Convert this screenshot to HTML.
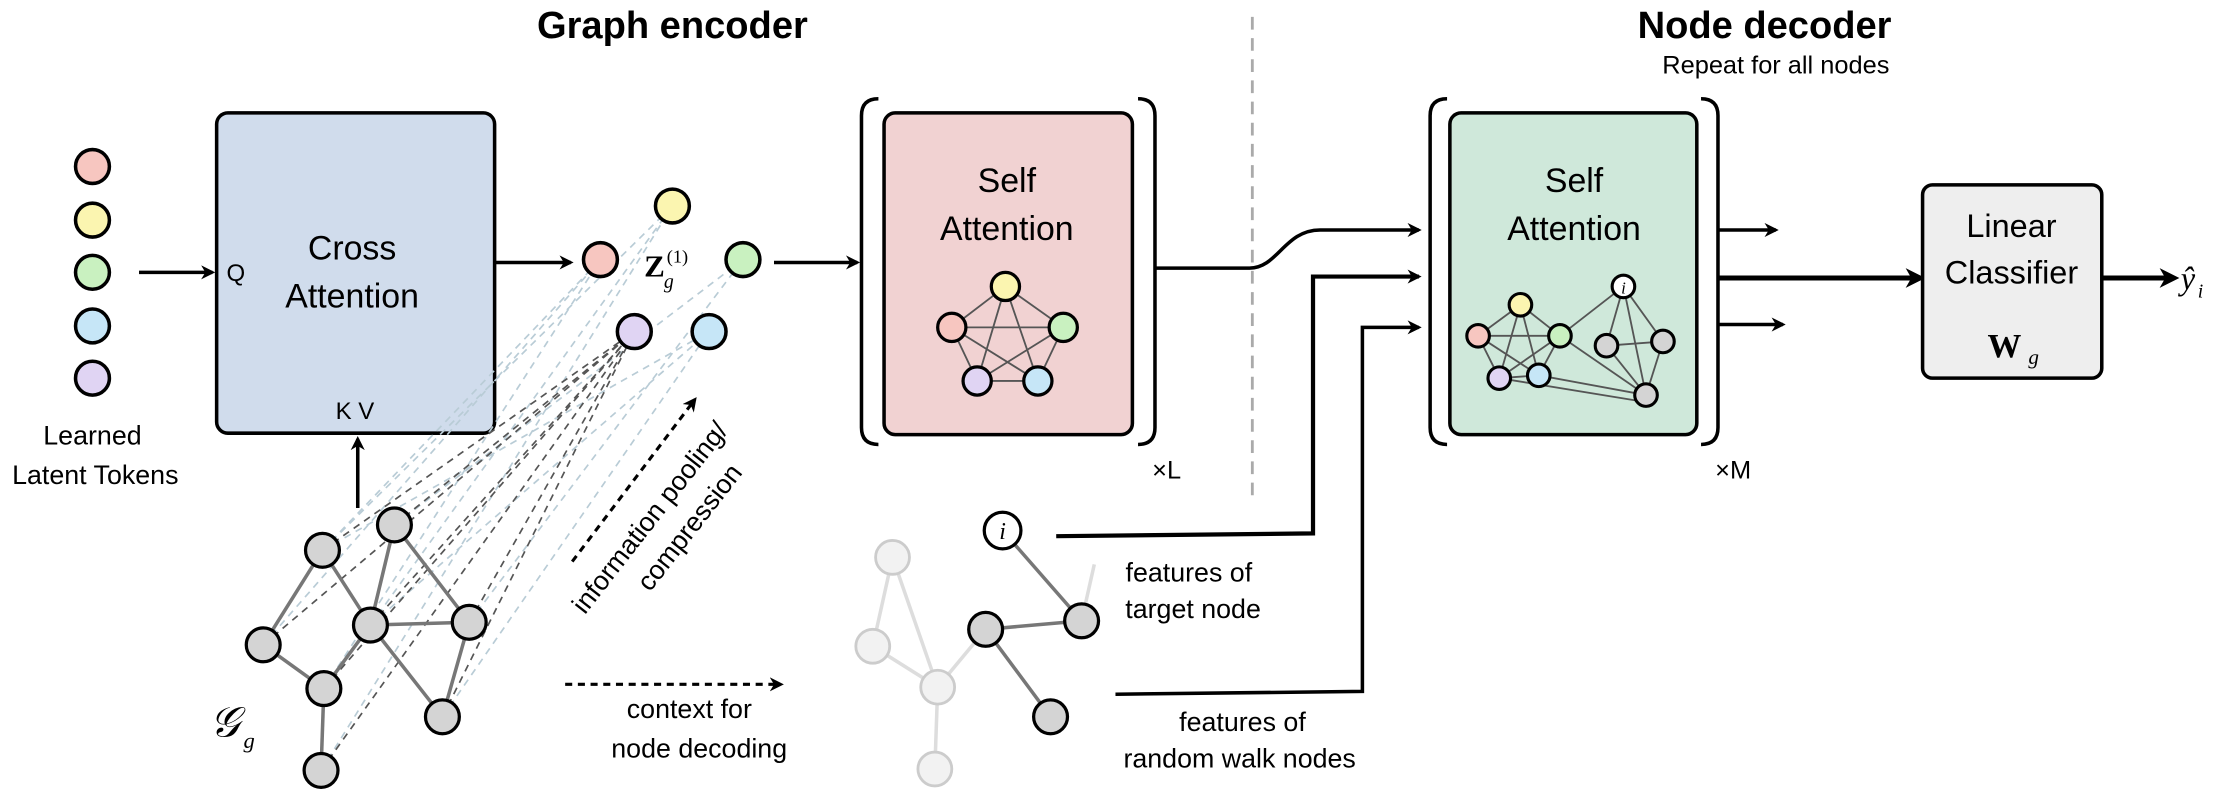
<!DOCTYPE html>
<html><head><meta charset="utf-8"><style>html,body{margin:0;padding:0;background:#fff}svg{display:block}</style></head><body>
<svg width="2214" height="793" viewBox="0 0 1568 562" xmlns="http://www.w3.org/2000/svg" font-family="Liberation Sans, sans-serif">
<defs>
<marker id="ah" markerWidth="10" markerHeight="10" refX="8" refY="5" orient="auto" markerUnits="userSpaceOnUse"><path d="M0,0 L10,5 L0,10 L3,5z" fill="#000"/></marker>
<marker id="ah2" markerWidth="14" markerHeight="14" refX="10" refY="7" orient="auto" markerUnits="userSpaceOnUse"><path d="M0,0 L14,7 L0,14 L4,7z" fill="#000"/></marker>
</defs>
<text x="476" y="27" font-size="27" font-weight="bold" text-anchor="middle">Graph encoder</text>
<text x="1250" y="27" font-size="27" font-weight="bold" text-anchor="middle">Node decoder</text>
<text x="1258" y="52" font-size="18" text-anchor="middle">Repeat for all nodes</text>
<line x1="887" y1="12" x2="887" y2="355" stroke="#aaa" stroke-width="2" stroke-dasharray="9,6"/>
<g stroke="#000" stroke-width="2.5">
<circle cx="65" cy="118" r="12" fill="#f7c6c0"/><circle cx="65" cy="156" r="12" fill="#fbf5b0"/><circle cx="65" cy="193" r="12" fill="#c9f1c0"/><circle cx="65" cy="231" r="12" fill="#c6e6f7"/><circle cx="65" cy="268" r="12" fill="#e0d4f3"/>
</g>
<text x="65" y="315" font-size="19" text-anchor="middle">Learned</text>
<text x="67" y="343" font-size="19" text-anchor="middle">Latent Tokens</text>
<g stroke="#000" stroke-width="2.5" fill="none">
<line x1="98" y1="193" x2="150" y2="193" marker-end="url(#ah)"/>
<line x1="253" y1="360" x2="253" y2="311" marker-end="url(#ah)"/>
<line x1="350" y1="186" x2="404" y2="186" marker-end="url(#ah)"/>
<line x1="548" y1="186" x2="607" y2="186" marker-end="url(#ah)"/>
</g>
<rect x="153" y="80" width="197" height="227" rx="8" fill="#d0dcec" stroke="#000" stroke-width="2.5"/>
<text x="249" y="184" font-size="24" text-anchor="middle">Cross</text>
<text x="249" y="218" font-size="24" text-anchor="middle">Attention</text>
<text x="160" y="199" font-size="17">Q</text>
<text x="251" y="297" font-size="17" text-anchor="middle">K V</text>
<g stroke="#b9ccd6" stroke-width="1.2" stroke-dasharray="5,4">
<line x1="228" y1="390" x2="425" y2="184"/><line x1="228" y1="390" x2="476" y2="146"/><line x1="228" y1="390" x2="502" y2="235"/>
<line x1="279" y1="372" x2="526" y2="184"/><line x1="262" y1="443" x2="476" y2="146"/><line x1="262" y1="443" x2="502" y2="235"/>
<line x1="332" y1="441" x2="526" y2="184"/><line x1="313" y1="508" x2="502" y2="235"/><line x1="229" y1="488" x2="425" y2="184"/>
<line x1="186" y1="457" x2="425" y2="184"/><line x1="227" y1="546" x2="476" y2="146"/>
</g>
<g stroke="#555" stroke-width="1.2" stroke-dasharray="5,4">
<line x1="228" y1="390" x2="449" y2="235"/><line x1="279" y1="372" x2="449" y2="235"/><line x1="186" y1="457" x2="449" y2="235"/><line x1="262" y1="443" x2="449" y2="235"/><line x1="332" y1="441" x2="449" y2="235"/><line x1="229" y1="488" x2="449" y2="235"/><line x1="313" y1="508" x2="449" y2="235"/><line x1="227" y1="546" x2="449" y2="235"/>
</g>
<g stroke="#000" stroke-width="2.5">
<circle cx="425" cy="184" r="12" fill="#f7c6c0"/><circle cx="476" cy="146" r="12" fill="#fbf5b0"/><circle cx="526" cy="184" r="12" fill="#c9f1c0"/><circle cx="449" cy="235" r="12" fill="#e0d4f3"/><circle cx="502" cy="235" r="12" fill="#c6e6f7"/>
</g>
<text x="456" y="196" font-size="22" font-weight="bold" font-family="Liberation Serif, serif">Z</text>
<text x="470" y="204" font-size="14" font-style="italic" font-family="Liberation Serif, serif">g</text>
<text x="472" y="186" font-size="13" font-family="Liberation Serif, serif">(1)</text>
<g fill="none" stroke="#000" stroke-width="2.5">
<path d="M622,70 Q610,70 610,82 L610,303 Q610,315 622,315"/>
<path d="M806,70 Q818,70 818,82 L818,303 Q818,315 806,315"/>
<path d="M1025,70 Q1013,70 1013,82 L1013,303 Q1013,315 1025,315"/>
<path d="M1205,70 Q1217,70 1217,82 L1217,303 Q1217,315 1205,315"/>
</g>
<rect x="626" y="80" width="176" height="228" rx="8" fill="#f1d2d2" stroke="#000" stroke-width="2.5"/>
<text x="713" y="136" font-size="24" text-anchor="middle">Self</text>
<text x="713" y="170" font-size="24" text-anchor="middle">Attention</text>
<g stroke="#555" stroke-width="1.3">
<line x1="712" y1="203" x2="674" y2="232"/><line x1="712" y1="203" x2="753" y2="232"/><line x1="712" y1="203" x2="692" y2="270"/><line x1="712" y1="203" x2="735" y2="270"/>
<line x1="674" y1="232" x2="753" y2="232"/><line x1="674" y1="232" x2="692" y2="270"/><line x1="674" y1="232" x2="735" y2="270"/><line x1="753" y1="232" x2="692" y2="270"/><line x1="753" y1="232" x2="735" y2="270"/><line x1="692" y1="270" x2="735" y2="270"/>
</g>
<g stroke="#000" stroke-width="2.3">
<circle cx="712" cy="203" r="10" fill="#fbf5b0"/><circle cx="674" cy="232" r="10" fill="#f7c6c0"/><circle cx="753" cy="232" r="10" fill="#c9f1c0"/><circle cx="692" cy="270" r="10" fill="#e0d4f3"/><circle cx="735" cy="270" r="10" fill="#c6e6f7"/>
</g>
<text x="816" y="339" font-size="18">×L</text>
<text x="1215" y="339" font-size="18">×M</text>
<g fill="none" stroke="#000" stroke-width="2.5">
<path d="M818,190 L885,190 C905,190 910,163 935,163 L1005,163" marker-end="url(#ah)"/>
<path d="M748,380 L930,378 L930,196 L1005,196" stroke-width="3" marker-end="url(#ah)"/>
<path d="M790,492 L965,490 L965,232 L1005,232" marker-end="url(#ah)"/>
<line x1="1218" y1="163" x2="1258" y2="163" marker-end="url(#ah)"/>
<line x1="1218" y1="197" x2="1360" y2="197" stroke-width="3.5" marker-end="url(#ah2)"/>
<line x1="1218" y1="230" x2="1263" y2="230" marker-end="url(#ah)"/>
<line x1="1489" y1="197" x2="1540" y2="197" stroke-width="3.5" marker-end="url(#ah2)"/>
</g>
<rect x="1027" y="80" width="175" height="228" rx="8" fill="#cfe8da" stroke="#000" stroke-width="2.5"/>
<text x="1115" y="136" font-size="24" text-anchor="middle">Self</text>
<text x="1115" y="170" font-size="24" text-anchor="middle">Attention</text>
<g stroke="#555" stroke-width="1.3">
<line x1="1077" y1="216" x2="1047" y2="238"/><line x1="1077" y1="216" x2="1105" y2="238"/><line x1="1077" y1="216" x2="1062" y2="268"/><line x1="1077" y1="216" x2="1090" y2="266"/>
<line x1="1047" y1="238" x2="1062" y2="268"/><line x1="1047" y1="238" x2="1090" y2="266"/><line x1="1047" y1="238" x2="1105" y2="238"/><line x1="1105" y1="238" x2="1062" y2="268"/><line x1="1105" y1="238" x2="1090" y2="266"/><line x1="1062" y1="268" x2="1090" y2="266"/>
<line x1="1150" y1="203" x2="1105" y2="238"/><line x1="1150" y1="203" x2="1138" y2="245"/><line x1="1150" y1="203" x2="1166" y2="280"/><line x1="1150" y1="203" x2="1178" y2="242"/>
<line x1="1105" y1="238" x2="1166" y2="280"/><line x1="1138" y1="245" x2="1178" y2="242"/><line x1="1138" y1="245" x2="1166" y2="280"/><line x1="1178" y1="242" x2="1166" y2="280"/><line x1="1090" y1="266" x2="1166" y2="280"/><line x1="1062" y1="268" x2="1166" y2="285"/>
</g>
<g stroke="#000" stroke-width="2.2">
<circle cx="1077" cy="216" r="8" fill="#fbf5b0"/><circle cx="1047" cy="238" r="8" fill="#f7c6c0"/><circle cx="1105" cy="238" r="8" fill="#c9f1c0"/><circle cx="1062" cy="268" r="8" fill="#e0d4f3"/><circle cx="1090" cy="266" r="8" fill="#c6e6f7"/>
<circle cx="1150" cy="203" r="8" fill="#fff"/><circle cx="1138" cy="245" r="8" fill="#d4d4d4"/><circle cx="1178" cy="242" r="8" fill="#d4d4d4"/><circle cx="1166" cy="280" r="8" fill="#d4d4d4"/>
</g>
<text x="1150" y="208" font-size="12" font-style="italic" text-anchor="middle" font-family="Liberation Serif, serif">i</text>
<rect x="1362" y="131" width="127" height="137" rx="7" fill="#eeeeee" stroke="#000" stroke-width="2.5"/>
<text x="1425" y="168" font-size="23" text-anchor="middle">Linear</text>
<text x="1425" y="201" font-size="23" text-anchor="middle">Classifier</text>
<text x="1420" y="253" font-size="24" font-weight="bold" text-anchor="middle" font-family="Liberation Serif, serif">W</text>
<text x="1437" y="258" font-size="15" font-style="italic" font-family="Liberation Serif, serif">g</text>
<text x="1545" y="205" font-size="23" font-style="italic" font-family="Liberation Serif, serif">ŷ</text>
<text x="1557" y="211" font-size="14" font-style="italic" font-family="Liberation Serif, serif">i</text>
<g stroke="#777" stroke-width="2.5">
<line x1="228" y1="390" x2="186" y2="457"/><line x1="228" y1="390" x2="262" y2="443"/><line x1="279" y1="372" x2="332" y2="441"/><line x1="279" y1="372" x2="262" y2="443"/>
<line x1="186" y1="457" x2="229" y2="488"/><line x1="262" y1="443" x2="229" y2="488"/><line x1="262" y1="443" x2="332" y2="441"/><line x1="332" y1="441" x2="313" y2="508"/><line x1="229" y1="488" x2="227" y2="546"/><line x1="262" y1="443" x2="313" y2="508"/>
</g>
<g stroke="#000" stroke-width="2.3" fill="#d4d4d4">
<circle cx="228" cy="390" r="12"/><circle cx="279" cy="372" r="12"/><circle cx="186" cy="457" r="12"/><circle cx="262" cy="443" r="12"/><circle cx="332" cy="441" r="12"/><circle cx="229" cy="488" r="12"/><circle cx="313" cy="508" r="12"/><circle cx="227" cy="546" r="12"/>
</g>
<text x="148" y="522" font-size="30" font-style="italic" font-family="Liberation Serif, serif">𝒢</text>
<text x="172" y="530" font-size="16" font-style="italic" font-family="Liberation Serif, serif">g</text>
<line x1="405" y1="398" x2="492" y2="283" stroke="#000" stroke-width="2.2" stroke-dasharray="5,4" marker-end="url(#ah)"/>
<text transform="translate(414,436) rotate(-52)" font-size="19">information pooling/</text>
<text transform="translate(460,420) rotate(-52)" font-size="19">compression</text>
<line x1="400" y1="485" x2="553" y2="485" stroke="#000" stroke-width="2.2" stroke-dasharray="5,4" marker-end="url(#ah)"/>
<text x="488" y="509" font-size="19" text-anchor="middle">context for</text>
<text x="495" y="537" font-size="19" text-anchor="middle">node decoding</text>
<g stroke="#ddd" stroke-width="2.5">
<line x1="632" y1="395" x2="618" y2="458"/><line x1="618" y1="458" x2="664" y2="487"/><line x1="664" y1="487" x2="662" y2="545"/><line x1="632" y1="395" x2="664" y2="487"/><line x1="664" y1="487" x2="698" y2="446"/><line x1="766" y1="440" x2="775" y2="400"/>
</g>
<g stroke="#ccc" stroke-width="2" fill="#f2f2f2">
<circle cx="632" cy="395" r="12"/><circle cx="618" cy="458" r="12"/><circle cx="664" cy="487" r="12"/><circle cx="662" cy="545" r="12"/>
</g>
<g stroke="#777" stroke-width="2.5">
<line x1="710" y1="376" x2="766" y2="440"/><line x1="698" y1="446" x2="766" y2="440"/><line x1="698" y1="446" x2="744" y2="508"/>
</g>
<g stroke="#000" stroke-width="2.3" fill="#d4d4d4">
<circle cx="710" cy="376" r="13" fill="#fff"/><circle cx="698" cy="446" r="12"/><circle cx="766" cy="440" r="12"/><circle cx="744" cy="508" r="12"/>
</g>
<text x="710" y="382" font-size="17" font-style="italic" text-anchor="middle" font-family="Liberation Serif, serif">i</text>
<text x="842" y="412" font-size="19" text-anchor="middle">features of</text>
<text x="845" y="438" font-size="19" text-anchor="middle">target node</text>
<text x="880" y="518" font-size="19" text-anchor="middle">features of</text>
<text x="878" y="544" font-size="19" text-anchor="middle">random walk nodes</text>
</svg>
</body></html>
